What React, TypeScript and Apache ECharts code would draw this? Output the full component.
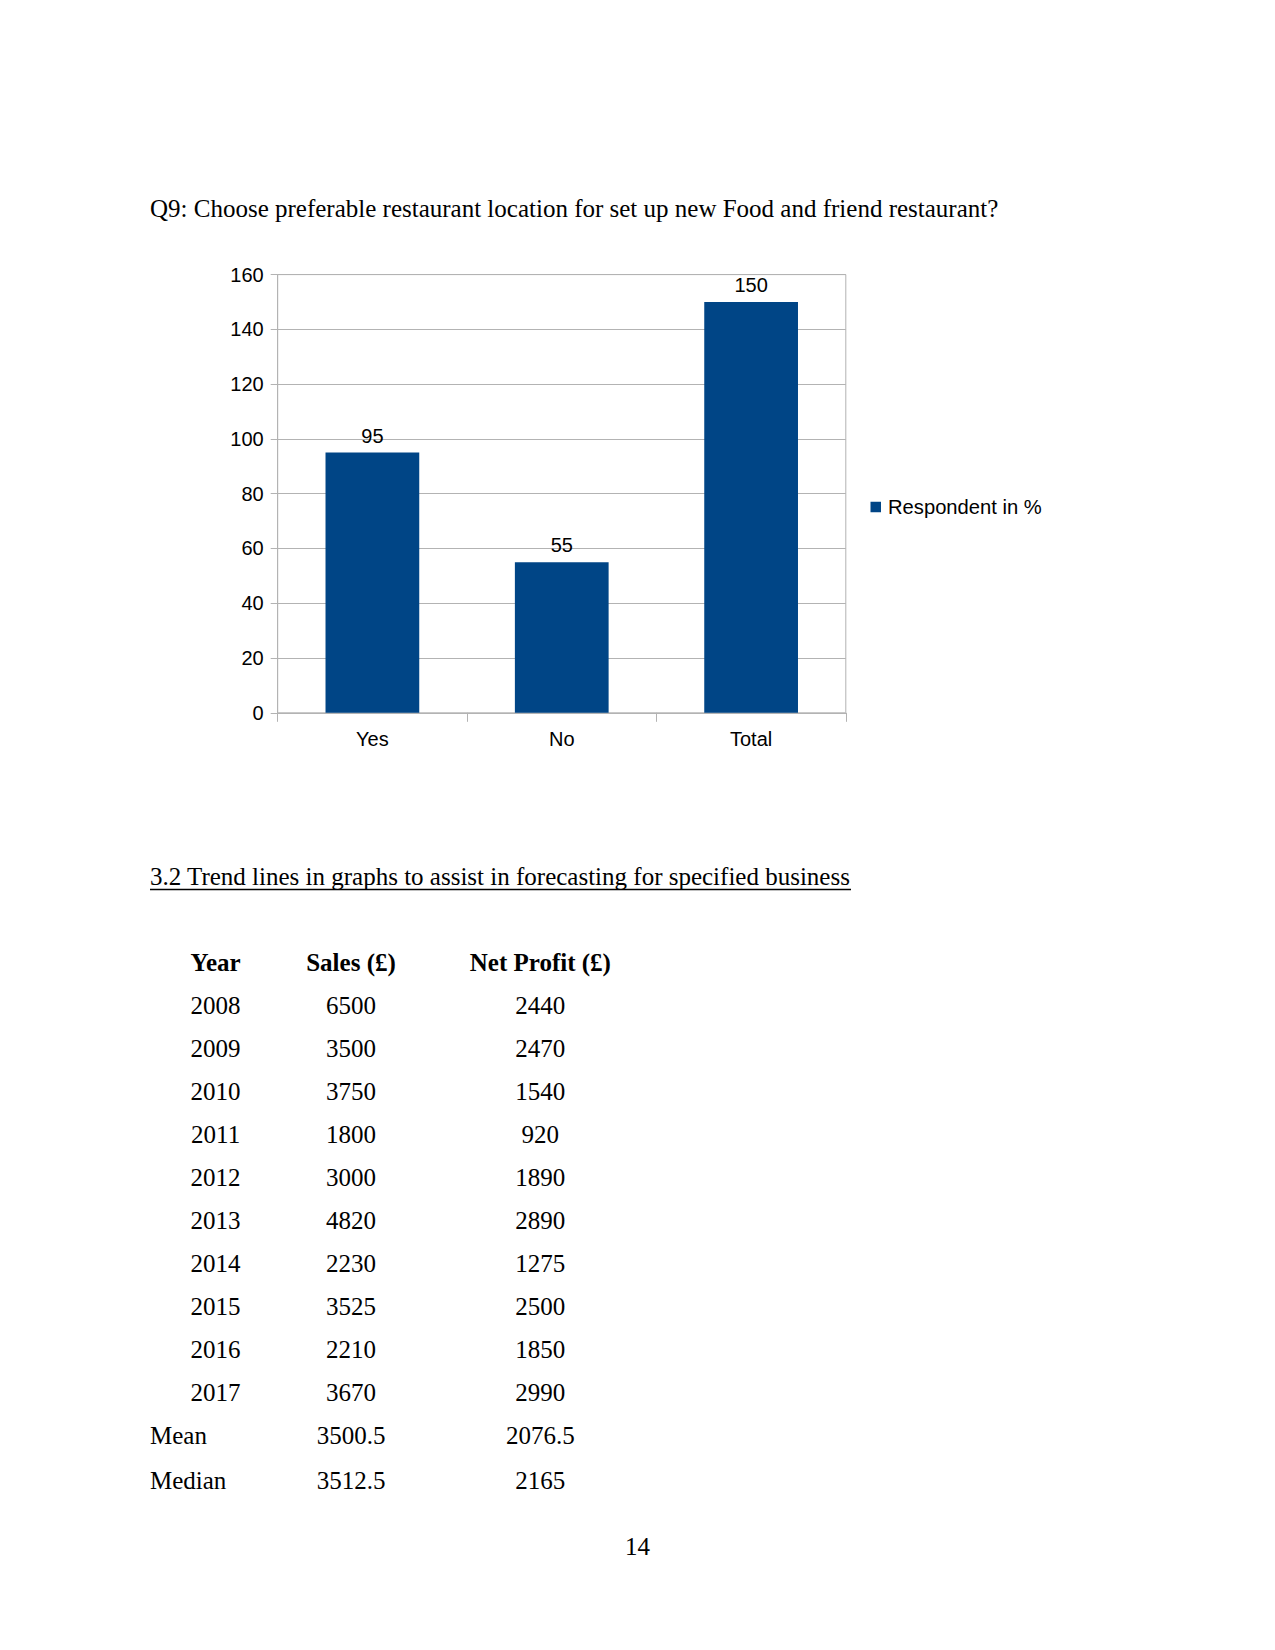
import React, { useEffect, useRef } from "react";
import * as echarts from "echarts";

const categories = ["Yes", "No", "Total"];
const respondents = [95, 55, 150];
const seriesName = "Respondent in %";
const yTicks = { min: 0, max: 160, interval: 20 };

const questionTitle =
  "Q9: Choose preferable restaurant location for set up new Food and friend restaurant?";
const sectionHeading = "3.2 Trend lines in graphs to assist in forecasting for specified business";

const tableHeaders = ["Year", "Sales (£)", "Net Profit (£)"];
const years = ["2008", "2009", "2010", "2011", "2012", "2013", "2014", "2015", "2016", "2017"];
const sales = ["6500", "3500", "3750", "1800", "3000", "4820", "2230", "3525", "2210", "3670"];
const netProfit = ["2440", "2470", "1540", "920", "1890", "2890", "1275", "2500", "1850", "2990"];
const summaryLabels = ["Mean", "Median"];
const summarySales = ["3500.5", "3512.5"];
const summaryProfit = ["2076.5", "2165"];
const pageNumber = "14";

const SERIF = '"Liberation Serif", "Times New Roman", serif';
const SANS = '"Liberation Sans", Arial, sans-serif';
const GRAY = "#b3b3b3";

export default function App() {
  const ref = useRef<HTMLDivElement>(null);

  useEffect(() => {
    if (!ref.current) return;
    const chart = echarts.init(ref.current, undefined, { renderer: "svg" });

    const serifText = (text: string, x: number, y: number, align: string, bold = false) => ({
      type: "text",
      x,
      y,
      style: {
        text,
        fill: "#000",
        font: `${bold ? "bold " : ""}25px ${SERIF}`,
        align,
        verticalAlign: "middle",
      },
    });

    const colYear = 215.6;
    const colSales = 351.0;
    const colProfit = 540.3;
    const headerY = 962.6;
    const firstRowY = 1005.7;
    const rowStep = 43.0;

    const graphics: any[] = [];
    graphics.push(serifText(questionTitle, 150, 208.3, "left"));
    graphics.push(serifText(sectionHeading, 150, 876.3, "left"));
    graphics.push({
      type: "line",
      shape: { x1: 150, y1: 889.5, x2: 851, y2: 889.5 },
      style: { stroke: "#000", lineWidth: 1.3 },
    });
    graphics.push(serifText(tableHeaders[0], colYear, headerY, "center", true));
    graphics.push(serifText(tableHeaders[1], colSales, headerY, "center", true));
    graphics.push(serifText(tableHeaders[2], colProfit, headerY, "center", true));
    years.forEach((yr, i) => {
      const y = firstRowY + i * rowStep;
      graphics.push(serifText(yr, colYear, y, "center"));
      graphics.push(serifText(sales[i], colSales, y, "center"));
      graphics.push(serifText(netProfit[i], colProfit, y, "center"));
    });
    summaryLabels.forEach((lbl, i) => {
      const y = firstRowY + (years.length + i) * rowStep + (i === 1 ? 1.5 : 0);
      graphics.push(serifText(lbl, 150, y, "left"));
      graphics.push(serifText(summarySales[i], colSales, y, "center"));
      graphics.push(serifText(summaryProfit[i], colProfit, y, "center"));
    });
    graphics.push(serifText(pageNumber, 637.5, 1546.4, "center"));

    chart.setOption({
      animation: false,
      backgroundColor: "#fff",
      textStyle: { fontFamily: SANS },
      grid: {
        left: 277.7,
        top: 274.6,
        right: 1275 - 845.8,
        bottom: 1650 - 712.8,
        show: true,
        borderColor: GRAY,
        borderWidth: 1,
        backgroundColor: "transparent",
        containLabel: false,
      },
      legend: {
        data: [seriesName],
        left: 870.5,
        top: 497,
        padding: 0,
        icon: "rect",
        itemWidth: 10.5,
        itemHeight: 10.5,
        textStyle: { fontFamily: SANS, fontSize: 20.2, color: "#000", padding: [0, 0, 0, 2] },
      },
      xAxis: {
        type: "category",
        data: categories,
        axisLine: { show: true, lineStyle: { color: GRAY } },
        axisTick: { show: true, length: 9, alignWithLabel: false, lineStyle: { color: GRAY } },
        axisLabel: { fontFamily: SANS, fontSize: 20, color: "#000", margin: 16 },
        splitLine: { show: false },
      },
      yAxis: {
        type: "value",
        min: yTicks.min,
        max: yTicks.max,
        interval: yTicks.interval,
        axisLine: { show: true, lineStyle: { color: GRAY } },
        axisTick: { show: true, length: 7, lineStyle: { color: GRAY } },
        axisLabel: { fontFamily: SANS, fontSize: 20, color: "#000", margin: 14 },
        splitLine: { show: true, lineStyle: { color: GRAY, width: 1 } },
      },
      series: [
        {
          name: seriesName,
          type: "bar",
          data: respondents,
          barWidth: "49.5%",
          itemStyle: { color: "#004586" },
          label: {
            show: true,
            position: "top",
            distance: 7,
            fontFamily: SANS,
            fontSize: 20,
            color: "#000",
          },
        },
      ],
      graphic: graphics,
    });

    return () => chart.dispose();
  }, []);

  return (
    <div
      ref={ref}
      style={{ position: "absolute", left: 0, top: 0, width: 1275, height: 1650, background: "#fff" }}
    />
  );
}
